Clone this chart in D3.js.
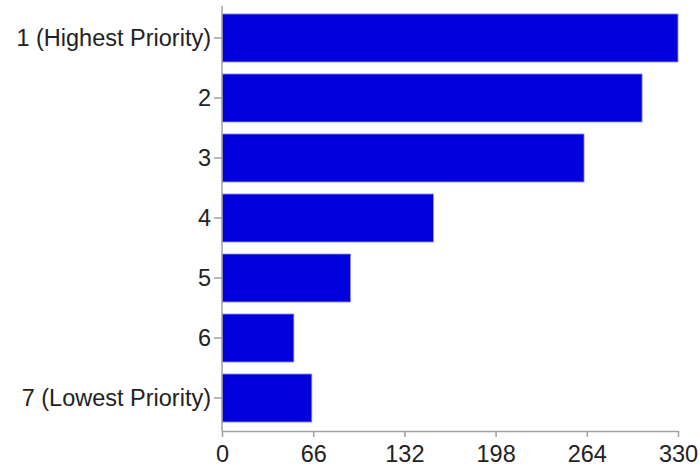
<!DOCTYPE html>
<html>
<head>
<meta charset="utf-8">
<script src="https://cdn.jsdelivr.net/npm/d3@7"></script>
<style>
  html, body { margin: 0; padding: 0; background: #fff; }
  svg { display: block; }
  .axis text { font-family: "Liberation Sans", Arial, Helvetica, sans-serif; font-size: 23.5px; fill: #222; }
  .axis path, .axis line { stroke: #a0a0a0; stroke-width: 1.5; }
</style>
</head>
<body>
<svg id="chart" width="700" height="470"></svg>
<script>
const categories = ["1 (Highest Priority)", "2", "3", "4", "5", "6", "7 (Lowest Priority)"];
const values = [330, 304, 262, 153, 93, 52, 65];
const xTicks = [0, 66, 132, 198, 264, 330];

const svg = d3.select("#chart");
const mLeft = 222, mRight = 678, mTop = 6, mBottom = 430, axisY = 431;

const x = d3.scaleLinear().domain([0, 330]).range([mLeft, mRight]);
const y = d3.scaleBand().domain(categories).range([mTop, mBottom])
  .paddingInner(0.2).paddingOuter(0.133);

svg.append("g").selectAll("rect")
  .data(categories)
  .join("rect")
  .attr("x", x(0))
  .attr("y", d => y(d))
  .attr("width", (d, i) => x(values[i]) - x(0))
  .attr("height", y.bandwidth())
  .attr("fill", "#0000dc")
  .attr("stroke", "#8c8cf0")
  .attr("stroke-width", 0.8);

svg.append("g")
  .attr("class", "axis")
  .attr("transform", `translate(0,${axisY})`)
  .call(d3.axisBottom(x).tickValues(xTicks).tickSize(6).tickPadding(8).tickSizeOuter(0).tickFormat(d3.format("d")));

const yAxis = svg.append("g")
  .attr("class", "axis")
  .attr("transform", `translate(${mLeft},0)`)
  .call(d3.axisLeft(y).tickSize(8).tickPadding(3).tickSizeOuter(0));
yAxis.select(".domain").attr("d", `M0,${mTop}V${axisY}`);
</script>
</body>
</html>
